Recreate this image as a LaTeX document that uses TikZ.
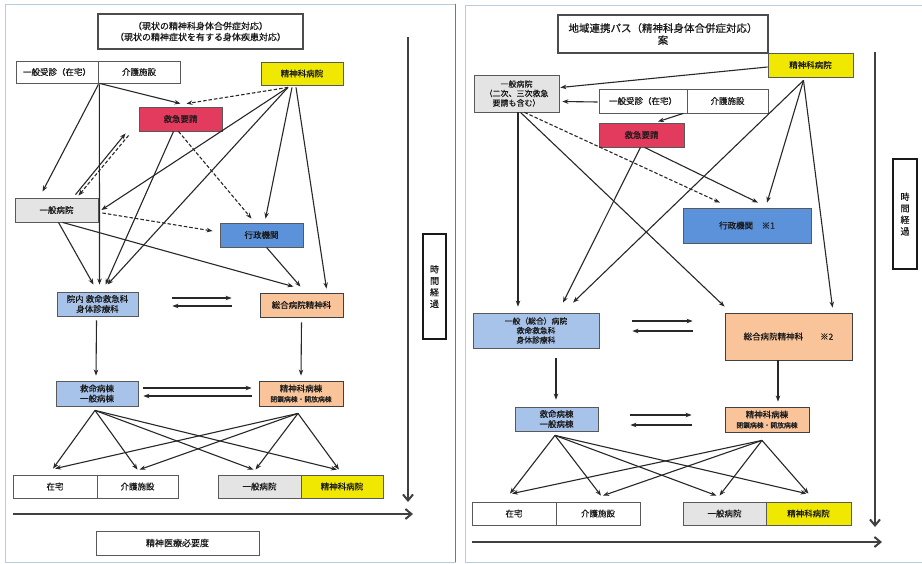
\documentclass[tikz,border=0pt]{standalone}
\usepackage{fontspec}
\newfontfamily\cjk{Noto Sans CJK JP}[FakeBold=0.4]
\usetikzlibrary{arrows.meta}
\definecolor{cyel}{RGB}{240,232,0}
\definecolor{cred}{RGB}{226,59,94}
\definecolor{cgray}{RGB}{228,228,228}
\definecolor{cblue}{RGB}{92,146,218}
\definecolor{clblue}{RGB}{168,195,234}
\definecolor{corange}{RGB}{249,196,154}
\definecolor{cframe}{RGB}{184,204,224}
\definecolor{cline}{RGB}{40,40,40}
\begin{document}
\begin{tikzpicture}[x=1pt,y=-1pt,
  box/.style={draw=black!65, line width=0.8pt, inner sep=0pt, align=center,
    font=\cjk\fontsize{8.5}{10}\selectfont, text=black!90},
  wbox/.style={box, fill=white},
  ybox/.style={box, fill=cyel},
  rbox/.style={box, fill=cred},
  gbox/.style={box, fill=cgray},
  bbox/.style={box, fill=cblue},
  lbbox/.style={box, fill=clblue},
  obox/.style={box, fill=corange, draw=black!75},
  tbox/.style={box, fill=white, line width=1.5pt, draw=black!70},
  timebox/.style={box, fill=white, line width=1.8pt, draw=black!90, font=\cjk\fontsize{9}{11.5}\selectfont},
  arr/.style={-{Stealth[length=6pt,width=4.5pt]}, line width=1.1pt, draw=cline},
  darr/.style={arr, dash pattern=on 3.5pt off 2pt},
  axis/.style={-{Straight Barb[length=6pt,width=10pt]}, line width=2pt, draw=black!75},
  frame/.style={draw=cframe, line width=1pt}
]
\useasboundingbox (0,0) rectangle (922,563);
\fill[white] (0,0) rectangle (922,563);
\draw[frame] (5,4) rectangle (455,562);
\draw[draw=black!40!cframe, line width=1pt] (455,4) -- (455,562);
\draw[frame] (465,5) rectangle (930,562);

% ---------------- left panel ----------------
\node[tbox, minimum width=205pt, minimum height=35pt, font=\cjk\fontsize{9}{11}\selectfont] (Ltitle) at (200.5,31.5)
  {（現状の精神科身体合併症対応）\\（現状の精神症状を有する身体疾患対応）};
\node[wbox, minimum width=82pt, minimum height=22pt] (Lgp) at (57,72) {一般受診（在宅）};
\node[wbox, minimum width=82pt, minimum height=22pt] (Lkaigo) at (139,72) {介護施設};
\node[ybox, minimum width=82pt, minimum height=23pt] (Lpsy) at (302,73.5) {精神科病院};
\node[rbox, minimum width=83pt, minimum height=24pt] (Lem) at (180.5,119) {救急要請};
\node[gbox, minimum width=83pt, minimum height=24pt] (Lgen) at (56.5,210) {一般病院};
\node[bbox, minimum width=83pt, minimum height=24pt] (Lgov) at (261.5,235) {行政機関};
\node[lbbox, minimum width=81pt, minimum height=24pt] (Lin) at (97.5,304) {院内\ 救命救急科\\身体診療科};
\node[obox, minimum width=83pt, minimum height=24pt] (Lsogo) at (301.5,305) {総合病院精神科};
\node[lbbox, minimum width=82pt, minimum height=25pt] (Lward) at (97,393.5) {救命病棟\\一般病棟};
\node[obox, minimum width=84pt, minimum height=25pt] (Lpward) at (301,393.5)
  {精神科病棟\\{\fontsize{6.8}{8}\selectfont 閉鎖病棟・開放病棟}};
\node[wbox, minimum width=84pt, minimum height=23pt] (Lhome) at (55,486.5) {在宅};
\node[wbox, minimum width=81pt, minimum height=23pt] (Lcare) at (137.5,486.5) {介護施設};
\node[gbox, minimum width=83pt, minimum height=23pt] (Lgh) at (259.5,486.5) {一般病院};
\node[ybox, minimum width=82pt, minimum height=23pt] (Lph) at (342,486.5) {精神科病院};
\node[timebox, minimum width=23pt, minimum height=105pt] (Ltime) at (434.5,286.5) {時\\間\\経\\過};
\node[wbox, minimum width=163pt, minimum height=24pt, font=\cjk\fontsize{9}{10}\selectfont] (Lneed) at (177.5,543) {精神医療必要度};

% left connectors
\draw[arr] ([shift={(0,1)}]Lgp.south east) -- ([shift={(-14,-6)}]Lgen.north);
\draw[arr] ([shift={(1,1)}]Lgp.south east) -- ([shift={(2,-7)}]Lin.north);
\draw[arr] ([shift={(1,0)}]Lgp.south east) -- ([shift={(0,-3)}]Lem.north);
\coordinate (LJ) at ([shift={(-14,2)}]Lpsy.south);
\draw[darr] (LJ) -- ([shift={(6,-3)}]Lem.north);
\draw[arr] (LJ) -- ([shift={(3,0)}]Lgen.east);
\draw[arr] (LJ) -- ([shift={(10,-7)}]Lin.north);
\draw[arr] ([shift={(-10,2)}]Lpsy.south) -- ([shift={(4,-4)}]Lgov.north);
\draw[arr] ([shift={(-6,2)}]Lpsy.south) -- ([shift={(25,-4)}]Lsogo.north);
\draw[arr] ([shift={(19,-3)}]Lgen.north) -- ([shift={(-13,2)}]Lem.south west);
\draw[darr] ([shift={(-10,4)}]Lem.south west) -- ([shift={(22,-2)}]Lgen.north);
\draw[arr] ([shift={(-7,0)}]Lem.south) -- ([shift={(8,-7)}]Lin.north);
\draw[darr] ([shift={(-2,0)}]Lem.south) -- ([shift={(-10,-4)}]Lgov.north);
\draw[darr] ([shift={(4,3)}]Lgen.east) -- ([shift={(-7,-4)}]Lgov.west);
\draw[arr] ([shift={(2,0)}]Lgen.south) -- ([shift={(-4,-7)}]Lin.north);
\draw[arr] ([shift={(6,0)}]Lgen.south) -- ([shift={(-8,-6)}]Lsogo.north);
\draw[arr] ([shift={(5,0)}]Lgov.south) -- ([shift={(-1,-6)}]Lsogo.north);
\draw[arr] ([shift={(34,-6)}]Lin.east) -- ([shift={(-28,-7)}]Lsogo.west);
\draw[arr] ([shift={(-28,1)}]Lsogo.west) -- ([shift={(34,2)}]Lin.east);
\draw[arr] ([shift={(-1,4)}]Lin.south) -- ([shift={(-1,-5)}]Lward.north);
\draw[arr] ([shift={(0,5)}]Lsogo.south) -- ([shift={(0,-5)}]Lpward.north);
\draw[arr] ([shift={(5,-5.5)}]Lward.east) -- ([shift={(-7,-5.5)}]Lpward.west);
\draw[arr] ([shift={(-7,2.5)}]Lpward.west) -- ([shift={(5,2.5)}]Lward.east);
\coordinate (LA) at ([shift={(-2,4)}]Lward.south);
\coordinate (LB) at ([shift={(-3,7)}]Lpward.south);
\draw[arr] (LA) -- ([shift={(-2,-6)}]Lhome.north);
\draw[arr] (LA) -- ([shift={(0,-5)}]Lcare.north);
\draw[arr] (LA) -- ([shift={(-6,-5)}]Lgh.north);
\draw[arr] (LA) -- ([shift={(-5,-5)}]Lph.north);
\draw[arr] (LB) -- ([shift={(0,-6)}]Lhome.north);
\draw[arr] (LB) -- ([shift={(2,-5)}]Lcare.north);
\draw[arr] (LB) -- ([shift={(-4,-5)}]Lgh.north);
\draw[arr] (LB) -- ([shift={(-3,-5)}]Lph.north);
\draw[axis] (13,514) -- (413,514);
\draw[axis] (408,37) -- (408,502);

% ---------------- right panel ----------------
\node[tbox, minimum width=210pt, minimum height=38pt, font=\cjk\fontsize{10.5}{12}\selectfont] (Rtitle) at (663,34)
  {地域連携パス（精神科身体合併症対応）\\案};
\node[ybox, minimum width=85pt, minimum height=24pt] (Rpsy) at (810.5,65) {精神科病院};
\node[gbox, minimum width=85pt, minimum height=37pt, font=\cjk\fontsize{8}{9.5}\selectfont] (Rgen) at (516.5,93.5)
  {一般病院\\（二次、三次救急\\要請も含む）};
\node[wbox, minimum width=88pt, minimum height=24pt] (Rgp) at (643,101) {一般受診（在宅）};
\node[wbox, minimum width=81pt, minimum height=24pt] (Rkaigo) at (727.5,101) {介護施設};
\node[rbox, minimum width=85pt, minimum height=24pt] (Rem) at (641.5,135) {救急要請};
\node[bbox, minimum width=128pt, minimum height=35pt] (Rgov) at (747,225.5) {行政機関\quad ※1};
\node[lbbox, minimum width=126pt, minimum height=35pt, font=\cjk\fontsize{7.8}{9.5}\selectfont] (Rin) at (536,330.5)
  {一般（総合）病院\\救命救急科\\身体診療科};
\node[obox, minimum width=127pt, minimum height=47pt] (Rsogo) at (788.5,336.5) {総合病院精神科\qquad ※2};
\node[lbbox, minimum width=83pt, minimum height=24pt] (Rward) at (556.5,419) {救命病棟\\一般病棟};
\node[obox, minimum width=84pt, minimum height=25pt] (Rpward) at (767,419.5)
  {精神科病棟\\{\fontsize{6.8}{8}\selectfont 閉鎖病棟・開放病棟}};
\node[wbox, minimum width=84pt, minimum height=23pt] (Rhome) at (514,513.5) {在宅};
\node[wbox, minimum width=84pt, minimum height=23pt] (Rcare) at (598,513.5) {介護施設};
\node[gbox, minimum width=83pt, minimum height=23pt] (Rgh) at (724.5,513.5) {一般病院};
\node[ybox, minimum width=85pt, minimum height=23pt] (Rph) at (808.5,513.5) {精神科病院};
\node[timebox, minimum width=24pt, minimum height=110pt] (Rtime) at (905,214) {時\\間\\経\\過};

% right connectors
\draw[arr] ([shift={(0,2)}]Rpsy.west) -- ([shift={(1,-6)}]Rgen.east);
\draw[arr] ([shift={(-1,1)}]Rgp.west) -- ([shift={(3,8)}]Rgen.east);
\draw[arr] ([shift={(-4,0)}]Rgp.south east) -- ([shift={(16.5,-1)}]Rem.north);
\coordinate (RJ) at ([shift={(-7,3)}]Rpsy.south);
\draw[arr] (RJ) -- ([shift={(37,-10)}]Rin.north);
\draw[arr] (RJ) -- ([shift={(20,-5)}]Rgov.north);
\draw[arr] (RJ) -- ([shift={(44,-5)}]Rsogo.north);
\draw[arr] ([shift={(-1,0)}]Rem.south) -- ([shift={(27,-10)}]Rin.north);
\draw[arr] ([shift={(3,0)}]Rem.south) -- ([shift={(11,-5)}]Rgov.north);
\draw[arr] ([shift={(1.5,0)}]Rgen.south) -- ([shift={(-18,-6)}]Rin.north);
\draw[arr] ([shift={(4,0)}]Rgen.south) -- ([shift={(0,-6)}]Rsogo.north west);
\draw[darr] ([shift={(8,0)}]Rgen.south) -- ([shift={(-27,-5)}]Rgov.north);
\draw[arr] ([shift={(33,-9.5)}]Rin.east) -- ([shift={(-32,-15.5)}]Rsogo.west);
\draw[arr] ([shift={(-32,-5.5)}]Rsogo.west) -- ([shift={(33,0.5)}]Rin.east);
\draw[arr] ([shift={(20,10)}]Rin.south) -- ([shift={(-0.5,-7)}]Rward.north);
\draw[arr] ([shift={(-10.5,0)}]Rsogo.south) -- ([shift={(11,-5)}]Rpward.north);
\draw[arr] ([shift={(32,-4)}]Rward.east) -- ([shift={(-33,-4.5)}]Rpward.west);
\draw[arr] ([shift={(-33,5.5)}]Rpward.west) -- ([shift={(32,6)}]Rward.east);
\coordinate (RA) at ([shift={(-1.5,4)}]Rward.south);
\coordinate (RB) at ([shift={(-5,8)}]Rpward.south);
\draw[arr] (RA) -- ([shift={(-4,-8)}]Rhome.north);
\draw[arr] (RA) -- ([shift={(3,-6)}]Rcare.north);
\draw[arr] (RA) -- ([shift={(-8,-6)}]Rgh.north);
\draw[arr] (RA) -- ([shift={(-2,-8)}]Rph.north);
\draw[arr] (RB) -- ([shift={(-2,-8)}]Rhome.north);
\draw[arr] (RB) -- ([shift={(5,-6)}]Rcare.north);
\draw[arr] (RB) -- ([shift={(-5,-6)}]Rgh.north);
\draw[arr] (RB) -- ([shift={(0,-8)}]Rph.north);
\draw[axis] (472,542) -- (882,542);
\draw[axis] (875,52) -- (875,527);
\end{tikzpicture}
\end{document}
